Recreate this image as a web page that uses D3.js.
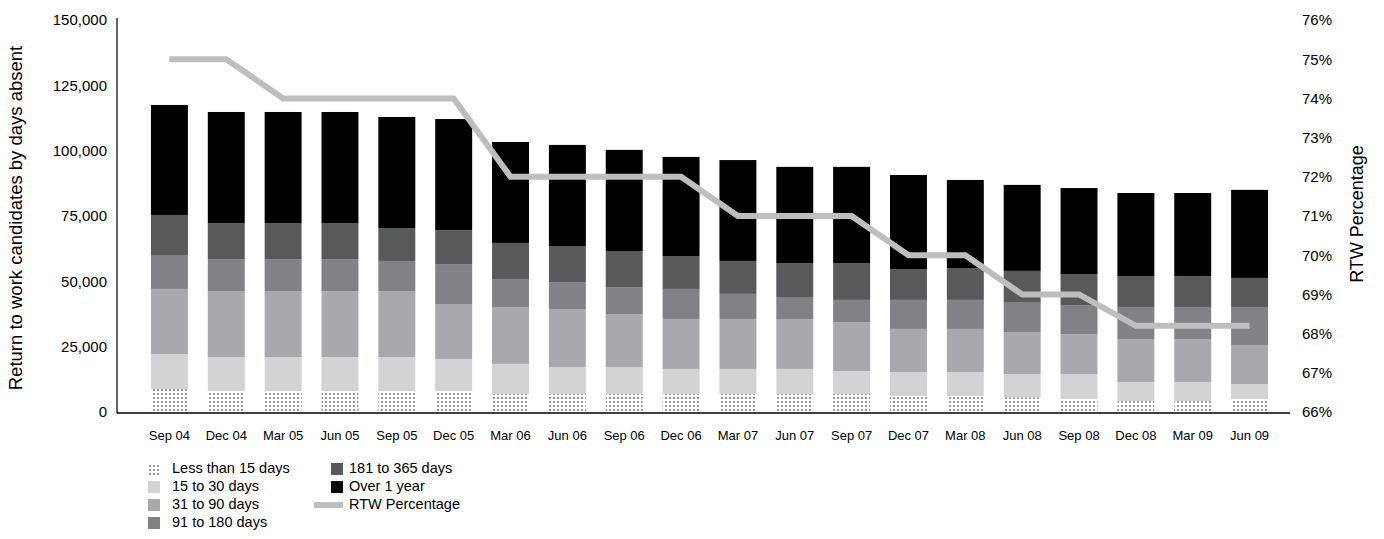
<!DOCTYPE html>
<html>
<head>
<meta charset="utf-8">
<script src="https://cdn.jsdelivr.net/npm/d3@7/dist/d3.min.js"></script>
<style>
  html, body { margin: 0; padding: 0; background: #fff; }
  svg { display: block; font-family: "Liberation Sans", Arial, Helvetica, sans-serif; }
</style>
</head>
<body>
<svg id="chart" width="1384" height="539"></svg>
<script>
// Quarterly periods
const periods = ["Sep 04","Dec 04","Mar 05","Jun 05","Sep 05","Dec 05","Mar 06","Jun 06","Sep 06","Dec 06",
                 "Mar 07","Jun 07","Sep 07","Dec 07","Mar 08","Jun 08","Sep 08","Dec 08","Mar 09","Jun 09"];

// Candidates by days absent (stacked from the bottom)
const lessThan15 = [8800,8000,8000,8000,8000,8000,6900,6900,6900,6900,6900,6900,6900,6100,6100,5700,5000,4200,4200,5000];
const days15to30 = [13400,13000,13000,13000,13000,12300,11500,10300,10300,9600,9600,9600,8800,9200,9200,8800,9500,7300,7300,5700];
const days31to90 = [24900,25300,25300,25300,25300,21000,21800,22200,20300,19100,19100,19100,18700,16500,16500,16100,15300,16400,16400,14900];
const days91to180 = [12700,12200,12200,12200,11500,15300,10700,10300,10300,11500,9600,8400,8500,11100,11100,11500,11100,12300,12300,14600];
const days181to365 = [15600,13800,13800,13800,12600,13000,13800,13800,13800,12600,12600,13000,14100,11800,12200,11900,11900,11800,11800,11100];
const over1Year = [42100,42500,42500,42500,42500,42500,38600,38700,38700,37900,38600,36800,36800,36000,33700,32900,32900,31800,31800,33700];

// Return-to-work rate (%)
const rtwPercentage = [75,75,74,74,74,74,72,72,72,72,71,71,71,70,70,69,69,68.2,68.2,68.2];

// Axis ticks
const leftTicks = [0,25000,50000,75000,100000,125000,150000];
const rightTicks = [66,67,68,69,70,71,72,73,74,75,76];

const seriesNames = ["Less than 15 days","15 to 30 days","31 to 90 days","91 to 180 days","181 to 365 days","Over 1 year"];
const seriesValues = [lessThan15, days15to30, days31to90, days91to180, days181to365, over1Year];
const seriesKeys = ["s0","s1","s2","s3","s4","s5"];
const seriesFills = ["url(#dots)","#d1d3d4","#a7a9ac","#808285","#58595b","#000000"];
const lineColor = "#bcbec0";

const rows = periods.map((p, i) => {
  const r = { period: p };
  seriesKeys.forEach((k, j) => { r[k] = seriesValues[j][i]; });
  return r;
});

const svg = d3.select("#chart");

// Dot fill for the shortest absence band
const defs = svg.append("defs");
const pat = defs.append("pattern")
  .attr("id", "dots")
  .attr("patternUnits", "userSpaceOnUse")
  .attr("width", 4).attr("height", 4);
pat.append("rect").attr("width", 4).attr("height", 4).attr("fill", "#ffffff");
pat.append("rect").attr("x", 1).attr("y", 1).attr("width", 2).attr("height", 2).attr("fill", "#999999");

const axisLeftX = 117, axisRightX = 1290, plotTop = 20, plotBottom = 412;

const x = d3.scaleBand().domain(periods).range([141, 1278]).paddingInner(0.35).paddingOuter(0.175);
const y = d3.scaleLinear().domain([0, 150000]).range([plotBottom, plotTop]);
const yR = d3.scaleLinear().domain([66, 76]).range([plotBottom, plotTop]);

const stacked = d3.stack().keys(seriesKeys)(rows);

// Stacked bars
const layers = svg.append("g").selectAll("g")
  .data(stacked).join("g")
  .attr("fill", (d, i) => seriesFills[i]);

layers.selectAll("rect")
  .data(d => d).join("rect")
  .attr("x", d => x(d.data.period))
  .attr("width", x.bandwidth())
  .attr("y", d => y(d[1]))
  .attr("height", d => y(d[0]) - y(d[1]));

// RTW percentage line
const line = d3.line()
  .x((d, i) => x(periods[i]) + x.bandwidth() / 2)
  .y(d => yR(d));

svg.append("path")
  .datum(rtwPercentage)
  .attr("fill", "none")
  .attr("stroke", lineColor)
  .attr("stroke-width", 6)
  .attr("stroke-linejoin", "miter")
  .attr("d", line);

// Left axis
const gLeft = svg.append("g").attr("transform", `translate(${axisLeftX},0)`)
  .call(d3.axisLeft(y).tickValues(leftTicks).tickSize(0).tickPadding(10).tickFormat(d3.format(",")));
gLeft.select(".domain").attr("stroke", "#000").attr("stroke-width", 1.2)
  .attr("d", `M0,${plotTop - 2}V${plotBottom + 1}`);
gLeft.selectAll("text").attr("font-size", 15).attr("fill", "#000").attr("font-family", null);

// Right axis (labels only)
const gRight = svg.append("g").attr("transform", `translate(${axisRightX},0)`)
  .call(d3.axisRight(yR).tickValues(rightTicks).tickSize(0).tickPadding(12).tickFormat(d => d + "%"));
gRight.select(".domain").remove();
gRight.selectAll("text").attr("font-size", 15).attr("fill", "#000").attr("font-family", null);

// Bottom axis
const gBottom = svg.append("g").attr("transform", `translate(0,${plotBottom + 1})`)
  .call(d3.axisBottom(x).tickSize(0).tickPadding(18));
gBottom.select(".domain").attr("stroke", "#000").attr("stroke-width", 1.5)
  .attr("d", `M${axisLeftX},0H${axisRightX}`);
gBottom.selectAll("text").attr("font-size", 13).attr("fill", "#000").attr("font-family", null);

// Axis titles
svg.append("text")
  .attr("transform", `translate(17,218) rotate(-90)`)
  .attr("text-anchor", "middle")
  .attr("dominant-baseline", "middle")
  .attr("font-size", 18.5)
  .text("Return to work candidates by days absent");

svg.append("text")
  .attr("transform", `translate(1358,214) rotate(-90)`)
  .attr("text-anchor", "middle")
  .attr("dominant-baseline", "middle")
  .attr("font-size", 18)
  .text("RTW Percentage");

// Legend
const legendItems = seriesNames.map((n, i) => ({ name: n, fill: seriesFills[i], type: "box" }))
  .concat([{ name: "RTW Percentage", fill: lineColor, type: "line" }]);
const colX = [148, 331];
const rowY = [469, 487, 505, 523];
const legend = svg.append("g");
legendItems.forEach((it, i) => {
  const col = i < 4 ? 0 : 1;
  const row = i < 4 ? i : i - 4;
  const gx = colX[col], gy = rowY[row];
  if (it.type === "box") {
    legend.append("rect").attr("x", gx).attr("y", gy - 6).attr("width", 12).attr("height", 12).attr("fill", it.fill);
  } else {
    legend.append("rect").attr("x", gx - 17).attr("y", gy - 3).attr("width", 29).attr("height", 6).attr("fill", it.fill);
  }
  legend.append("text")
    .attr("x", gx + (col === 0 ? 24 : 18))
    .attr("y", gy)
    .attr("dominant-baseline", "middle")
    .attr("font-size", 14.5)
    .text(it.name);
});
</script>
</body>
</html>
